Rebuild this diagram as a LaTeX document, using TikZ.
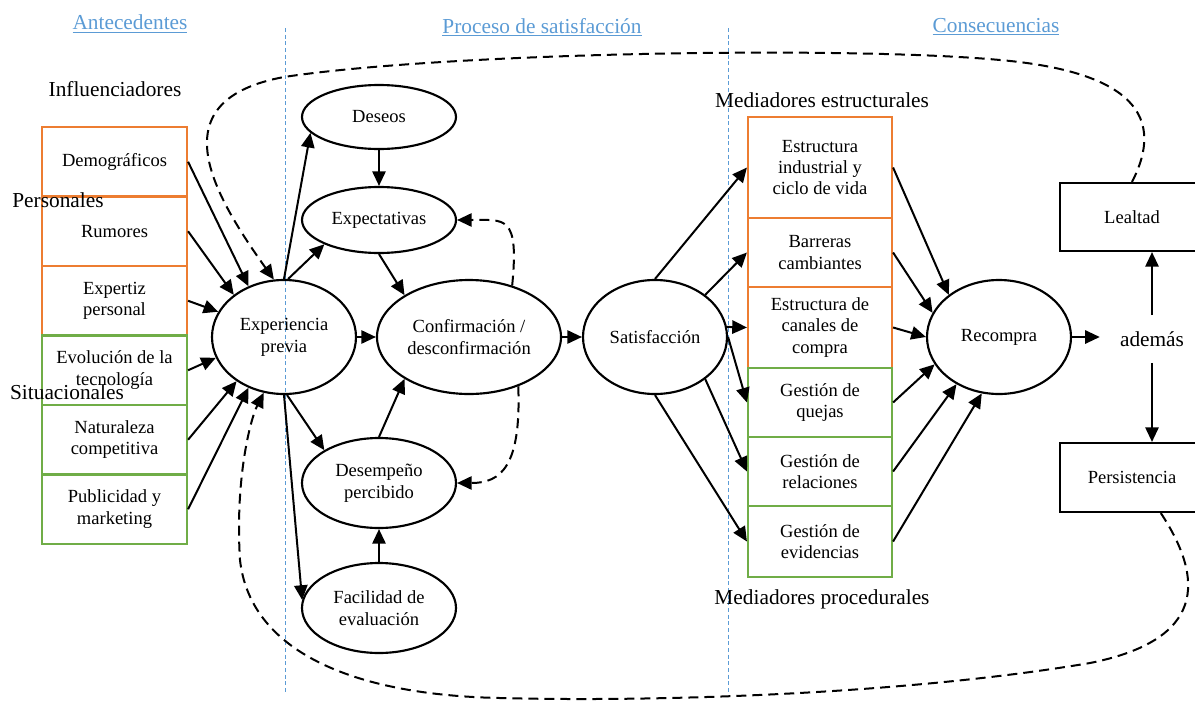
\documentclass[tikz,border=0pt]{standalone}
\usepackage{fontspec}
\setmainfont{Liberation Serif}
\usetikzlibrary{shapes.geometric,arrows.meta}
\definecolor{headblue}{RGB}{91,155,213}
\definecolor{boxorange}{RGB}{237,125,49}
\definecolor{boxgreen}{RGB}{112,173,71}

\tikzset{
  head/.style={text=headblue, inner sep=0.75pt, font=\fontsize{16}{19}\selectfont},
  lbl/.style={inner sep=0.75pt, font=\fontsize{16}{19}\selectfont},
  mbox/.style={rectangle, draw, line width=1.6pt, inner sep=0pt, align=center,
    minimum width=108.75pt, font=\fontsize{13.9}{16.1}\selectfont},
  obox/.style={mbox, draw=boxorange},
  gbox/.style={mbox, draw=boxgreen},
  kbox/.style={mbox, draw=black, minimum width=108pt},
  oval/.style={ellipse, draw, line width=1.6pt, inner sep=0pt, align=center,
    font=\fontsize{13.9}{16.5}\selectfont},
  conn/.style={line width=1.5pt, -{Triangle[length=11pt,width=10pt]}},
  dconn/.style={conn, dash pattern=on 7.5pt off 4.5pt},
  sepline/.style={headblue, line width=0.6pt, dash pattern=on 3pt off 2pt}
}

\begin{document}
\begin{tikzpicture}[x=0.75pt,y=0.75pt,yscale=-1,xscale=1]
    \useasboundingbox (0,0) rectangle (1195,700);

    % column separators
    \draw[sepline] (285,28) -- (285,693);
    \draw[sepline] (728,28) -- (728,693);

    % headings
    \node[head] (antec) at (130,24) {\underline{Antecedentes}};
    \node[head] (proceso) at (542,27) {\underline{Proceso de satisfacción}};
    \node[head] (consec) at (996,27) {\underline{Consecuencias}};

    % antecedents
    \node[obox, minimum height=52.1pt] (demo) at (114.5,161.75) {Demográficos};
    \node[obox, minimum height=52.1pt] (rumor) at (114.5,231.25) {Rumores};
    \node[obox, minimum height=52.1pt] (expert) at (114.5,300.75) {Expertiz\\personal};
    \node[gbox, minimum height=52.1pt] (evol) at (114.5,370.25) {Evolución de la\\tecnología};
    \node[gbox, minimum height=52.1pt] (natur) at (114.5,439.75) {Naturaleza\\competitiva};
    \node[gbox, minimum height=52.1pt] (publi) at (114.5,509.25) {Publicidad y\\marketing};

    \node[lbl] (infl) at (115,89) {Influenciadores};
    \node[lbl] (pers) at (58,200) {Personales};
    \node[lbl] (situ) at (67,392) {Situacionales};

    % satisfaction process
    \node[oval, minimum width=108pt, minimum height=85.5pt] (exp) at (284,337) {Experiencia\\previa};
    \node[oval, minimum width=115.5pt, minimum height=48pt] (deseos) at (379,117) {Deseos};
    \node[oval, minimum width=115.5pt, minimum height=49.5pt] (expect) at (379,220) {Expectativas};
    \node[oval, minimum width=138pt, minimum height=85.5pt] (conf) at (469,337) {Confirmación /\\desconfirmación};
    \node[oval, minimum width=115.5pt, minimum height=67.5pt] (desemp) at (379,483) {Desempeño\\percibido};
    \node[oval, minimum width=115.5pt, minimum height=67.5pt] (facil) at (379,608) {Facilidad de\\evaluación};
    \node[oval, minimum width=108pt, minimum height=85.5pt] (sat) at (655,337) {Satisfacción};

    % mediators
    \node[obox, minimum width=108pt, minimum height=75.75pt] (estr) at (820,167.5) {Estructura\\industrial y\\ciclo de vida};
    \node[obox, minimum width=108pt, minimum height=51.75pt] (barr) at (820,252.5) {Barreras\\cambiantes};
    \node[obox, minimum width=108pt, minimum height=60.75pt] (canal) at (820,327.5) {Estructura de\\canales de\\compra};
    \node[gbox, minimum width=108pt, minimum height=51.75pt] (quejas) at (820,402.5) {Gestión de\\quejas};
    \node[gbox, minimum width=108pt, minimum height=51.75pt] (relac) at (820,471.5) {Gestión de\\relaciones};
    \node[gbox, minimum width=108pt, minimum height=53.25pt] (evid) at (820,541.5) {Gestión de\\evidencias};

    \node[lbl] (medest) at (822,100) {Mediadores estructurales};
    \node[lbl] (medproc) at (822,599) {Mediadores procedurales};

    % consequences
    \node[oval, minimum width=108pt, minimum height=85.5pt] (rec) at (999,337) {Recompra};
    \node[lbl, inner xsep=15pt, inner ysep=12pt] (ademas) at (1152,339) {además};
    \node[kbox, minimum height=51pt] (lealtad) at (1132,217) {Lealtad};
    \node[kbox, minimum height=51.75pt] (persist) at (1132,477.5) {Persistencia};

    % influencers -> previous experience
    \draw[conn] (demo.east) -- (exp.125);
    \draw[conn] (rumor.east) -- (exp.140);
    \draw[conn] (expert.east) -- (exp.159);
    \draw[conn] (evol.east) -- (exp.197);
    \draw[conn] (natur.east) -- (exp.223);
    \draw[conn] (publi.east) -- (exp.235);

    % process
    \draw[conn] (exp.90) -- (deseos.193);
    \draw[conn] (exp.86) -- (expect.204);
    \draw[conn] (exp.east) -- (conf.west);
    \draw[conn] (exp.-87) -- (desemp.149);
    \draw[conn] (exp.270) -- (facil.174);
    \draw[conn] (deseos.south) -- (expect.north);
    \draw[conn] (expect.south) -- (conf.147);
    \draw[conn] (desemp.north) -- (conf.213);
    \draw[conn] (facil.north) -- (desemp.south);
    \draw[conn] (conf.east) -- (sat.west);
    \draw[dconn] (conf.50) .. controls +(7,-71) and +(48,0) .. (expect.east);
    \draw[dconn] (conf.-45) .. controls +(3,80) and +(44,0) .. (desemp.east);

    % satisfaction -> mediators
    \draw[conn] (sat.north) -- (estr.west);
    \draw[conn] (sat.40) -- (barr.west);
    \draw[conn] (sat.8) -- (canal.west);
    \draw[conn] (sat.east) -- (quejas.west);
    \draw[conn] (sat.-40) -- (relac.west);
    \draw[conn] (sat.south) -- (evid.west);

    % mediators -> repurchase
    \draw[conn] (estr.east) -- (rec.140);
    \draw[conn] (barr.east) -- (rec.160);
    \draw[conn] (canal.east) -- (rec.west);
    \draw[conn] (quejas.east) -- (rec.203);
    \draw[conn] (relac.east) -- (rec.228);
    \draw[conn] (evid.east) -- (rec.253);

    \draw[conn] (rec.east) -- (rec.east -| ademas.west);
    \draw[conn] (ademas.north) -- (ademas.north |- lealtad.south);
    \draw[conn] (ademas.south) -- (ademas.south |- persist.north);

    % feedback loops
    \draw[dconn] (lealtad.north) .. controls (1165,118) and (1135,72) .. (1000,60)
        .. controls (850,46) and (450,52) .. (284,77)
        .. controls (160,100) and (210,190) .. (exp.100);
    \draw[dconn] (persist.-51) .. controls (1205,580) and (1205,640) .. (1090,663)
        .. controls (900,695) and (650,702) .. (500,698)
        .. controls (350,695) and (250,650) .. (240,560)
        .. controls (235,480) and (250,420) .. (exp.250);

\end{tikzpicture}
\end{document}
